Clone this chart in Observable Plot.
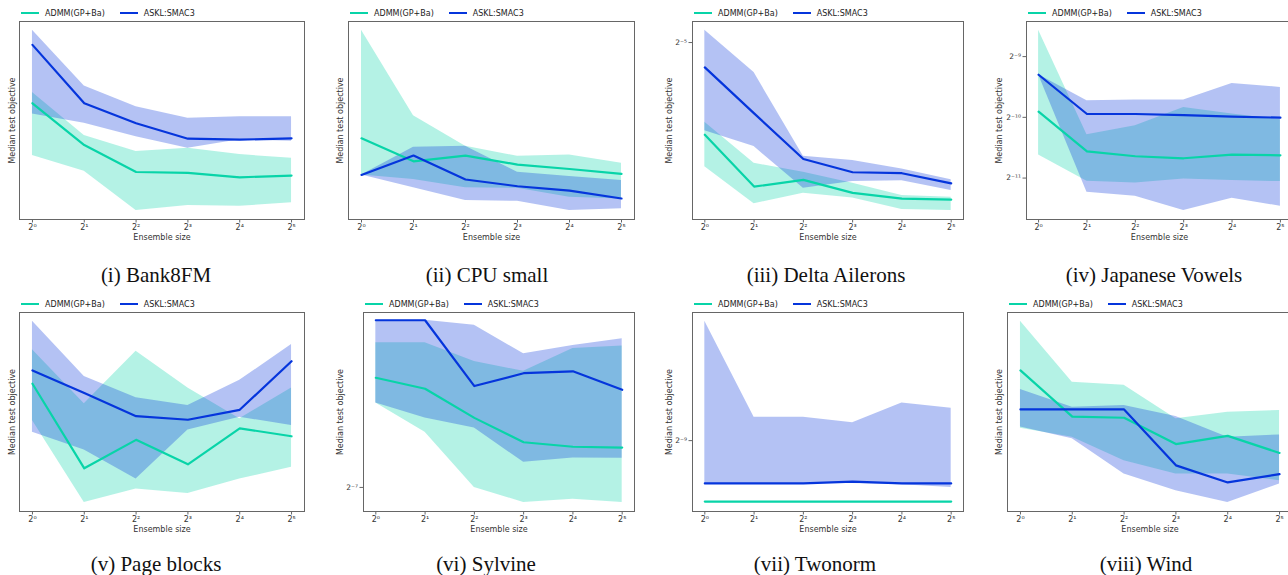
<!DOCTYPE html>
<html><head><meta charset="utf-8">
<script src="https://cdn.jsdelivr.net/npm/d3@7"></script>
<script src="https://cdn.jsdelivr.net/npm/@observablehq/plot@0.6"></script>
<style>
html,body{margin:0;padding:0;background:#fff}
body{width:1288px;height:575px;overflow:hidden;position:relative;font-family:"DejaVu Sans",sans-serif}
.plotbox{position:absolute}
.plotbox svg{overflow:visible;max-width:none !important}
.legend{position:absolute;height:12px;display:flex;align-items:center;font-size:8px;color:#222;white-space:nowrap;background:rgba(255,255,255,0.85)}
.legend .sw{display:inline-block;width:18px;height:2.6px;margin-right:6px}
.legend .lab{margin-right:15px}
.caption{position:absolute;font-family:"Liberation Serif","Times New Roman",serif;font-size:21px;line-height:21px;color:#111;white-space:nowrap;transform:translateX(-50%)}
</style>
</head><body>
<script>
// ---------- data ----------
const ensembleSizes = [1, 2, 4, 8, 16, 32];
const xTickLabels = ["2⁰", "2¹", "2²", "2³", "2⁴", "2⁵"];
const seriesNames = ["ADMM(GP+Ba)", "ASKL:SMAC3"];
const captions = ["(i) Bank8FM", "(ii) CPU small", "(iii) Delta Ailerons", "(iv) Japanese Vowels",
                  "(v) Page blocks", "(vi) Sylvine", "(vii) Twonorm", "(viii) Wind"];

// (i) Bank8FM — relative units (no y tick labels in source)
const bankAdmmMed = [58.7, 37.6, 24.0, 23.5, 21.3, 22.2];
const bankAdmmLo  = [32.3, 24.4, 4.5, 7.1, 6.7, 8.4];
const bankAdmmHi  = [64.2, 42.4, 34.3, 36.0, 32.8, 30.9];
const bankAsklMed = [88.2, 58.7, 48.6, 40.8, 40.3, 41.0];
const bankAsklLo  = [53.3, 48.6, 41.8, 36.0, 40.3, 39.5];
const bankAsklHi  = [95.6, 67.4, 57.0, 51.1, 51.9, 51.9];

// (ii) CPU small — relative units
const cpuAdmmMed = [41.0, 29.4, 32.3, 27.7, 25.5, 23.0];
const cpuAdmmLo  = [22.5, 20.2, 16.0, 15.8, 11.3, 10.4];
const cpuAdmmHi  = [95.6, 52.4, 37.0, 31.9, 32.6, 28.4];
const cpuAsklMed = [22.5, 32.3, 20.2, 16.8, 14.6, 10.6];
const cpuAsklLo  = [22.5, 16.0, 9.6, 9.2, 4.5, 5.4];
const cpuAsklHi  = [22.5, 36.5, 37.0, 23.9, 21.7, 19.7];

// (iii) Delta Ailerons — log2 of objective
const deltaAdmmMed = [-5.482, -5.753, -5.718, -5.786, -5.816, -5.821];
const deltaAdmmLo  = [-5.649, -5.843, -5.788, -5.812, -5.873, -5.878];
const deltaAdmmHi  = [-5.417, -5.631, -5.678, -5.736, -5.800, -5.809];
const deltaAsklMed = [-5.130, -5.370, -5.609, -5.678, -5.683, -5.736];
const deltaAsklLo  = [-5.461, -5.544, -5.762, -5.727, -5.722, -5.774];
const deltaAsklHi  = [-4.936, -5.157, -5.595, -5.617, -5.661, -5.717];
const deltaYTicks = [-5];

// (iv) Japanese Vowels — log2 of objective
const jvAdmmMed = [-9.907, -10.559, -10.641, -10.674, -10.614, -10.625];
const jvAdmmLo  = [-10.619, -11.052, -11.079, -11.014, -11.041, -11.058];
const jvAdmmHi  = [-8.564, -10.285, -10.137, -9.836, -9.945, -10.038];
const jvAsklMed = [-9.299, -9.945, -9.945, -9.962, -9.989, -10.005];
const jvAsklLo  = [-9.299, -11.233, -11.299, -11.534, -11.332, -11.463];
const jvAsklHi  = [-9.299, -9.726, -9.715, -9.715, -9.441, -9.507];
const jvYTicks = [-9, -10, -11];

// (v) Page blocks — relative units
const pageAdmmMed = [64.2, 21.7, 36.0, 23.7, 41.8, 37.8];
const pageAdmmLo  = [45.7, 4.5, 11.3, 9.1, 16.3, 22.2];
const pageAdmmHi  = [81.3, 54.1, 80.5, 62.0, 46.6, 62.0];
const pageAsklMed = [70.9, 59.5, 47.9, 46.1, 51.1, 75.5];
const pageAsklLo  = [39.8, 30.9, 16.3, 41.0, 47.4, 43.2];
const pageAsklHi  = [95.6, 67.9, 57.1, 53.3, 65.9, 83.9];

// (vi) Sylvine — log2 of objective
const sylAdmmMed = [-6.590, -6.631, -6.740, -6.831, -6.848, -6.851];
const sylAdmmLo  = [-6.684, -6.794, -7.000, -7.056, -7.044, -7.056];
const sylAdmmHi  = [-6.459, -6.459, -6.529, -6.566, -6.481, -6.471];
const sylAsklMed = [-6.375, -6.375, -6.621, -6.573, -6.566, -6.635];
const sylAsklLo  = [-6.684, -6.740, -6.778, -6.906, -6.890, -6.891];
const sylAsklHi  = [-6.375, -6.375, -6.394, -6.500, -6.469, -6.444];
const sylYTicks = [-7];

// (vii) Twonorm — log2 of objective
const twoAdmmMed = [-9.228, -9.228, -9.228, -9.228, -9.228, -9.228];
const twoAdmmLo  = [-9.228, -9.228, -9.228, -9.228, -9.228, -9.228];
const twoAdmmHi  = [-9.228, -9.228, -9.228, -9.228, -9.228, -9.228];
const twoAsklMed = [-9.160, -9.160, -9.160, -9.153, -9.160, -9.160];
const twoAsklLo  = [-9.160, -9.160, -9.160, -9.160, -9.165, -9.175];
const twoAsklHi  = [-8.554, -8.913, -8.913, -8.933, -8.859, -8.879];
const twoYTicks = [-9];

// (viii) Wind — relative units
const windAdmmMed = [70.9, 47.7, 47.1, 33.9, 38.0, 29.4];
const windAdmmLo  = [41.8, 37.3, 25.5, 18.8, 18.8, 15.5];
const windAdmmHi  = [95.6, 65.0, 63.4, 46.6, 49.9, 50.8];
const windAsklMed = [51.3, 51.3, 51.3, 23.2, 14.6, 18.8];
const windAsklLo  = [42.4, 36.5, 18.8, 10.4, 4.5, 13.8];
const windAsklHi  = [61.3, 52.4, 53.3, 47.7, 37.3, 38.5];

// ---------- styling / layout ----------
const TEAL = "#08d4a8";
const BLUE = "#0535dc";
const sup = {"-": "⁻", "0": "⁰", "1": "¹", "2": "²", "3": "³", "4": "⁴", "5": "⁵", "6": "⁶", "7": "⁷", "8": "⁸", "9": "⁹"};
const pow2 = k => "2" + String(k).split("").map(c => sup[c]).join("");

const panels = [
  {cap: 0, frame: [19, 304, 21, 219], d: [bankAdmmMed, bankAdmmLo, bankAdmmHi, bankAsklMed, bankAsklLo, bankAsklHi], yDomain: [0, 100], yTicks: [], yLab: 7.5, capX: 156, capY: 265},
  {cap: 1, frame: [348, 634, 21, 219], d: [cpuAdmmMed, cpuAdmmLo, cpuAdmmHi, cpuAsklMed, cpuAsklLo, cpuAsklHi], yDomain: [0, 100], yTicks: [], yLab: 8, capX: 487, capY: 265},
  {cap: 2, frame: [692, 963, 21, 219], d: [deltaAdmmMed, deltaAdmmLo, deltaAdmmHi, deltaAsklMed, deltaAsklLo, deltaAsklHi], yDomain: [-5.925, -4.890], yTicks: deltaYTicks, yLab: 23, capX: 826, capY: 265},
  {cap: 3, frame: [1026, 1292, 21, 219], d: [jvAdmmMed, jvAdmmLo, jvAdmmHi, jvAsklMed, jvAsklLo, jvAsklHi], yDomain: [-11.682, -8.422], yTicks: jvYTicks, yLab: 27, capX: 1154, capY: 265},
  {cap: 4, frame: [19, 304, 312, 511], d: [pageAdmmMed, pageAdmmLo, pageAdmmHi, pageAsklMed, pageAsklLo, pageAsklHi], yDomain: [0, 100], yTicks: [], yLab: 7.5, capX: 156, capY: 554},
  {cap: 5, frame: [363, 634, 312, 511], d: [sylAdmmMed, sylAdmmLo, sylAdmmHi, sylAsklMed, sylAsklLo, sylAsklHi], yDomain: [-7.090, -6.346], yTicks: sylYTicks, yLab: 23, capX: 486, capY: 554},
  {cap: 6, frame: [692, 963, 312, 511], d: [twoAdmmMed, twoAdmmLo, twoAdmmHi, twoAsklMed, twoAsklLo, twoAsklHi], yDomain: [-9.265, -8.521], yTicks: twoYTicks, yLab: 23, capX: 815, capY: 554},
  {cap: 7, frame: [1007, 1292, 312, 511], d: [windAdmmMed, windAdmmLo, windAdmmHi, windAsklMed, windAsklLo, windAsklHi], yDomain: [0, 100], yTicks: [], yLab: 8, capX: 1146, capY: 554}
];

const ML = 40, MR = 10, MT = 10, MB = 30;

for (const p of panels) {
  const [L, R, T, B] = p.frame;
  const rows = ensembleSizes.map((s, i) => ({
    x: Math.log2(s),
    am: p.d[0][i], alo: p.d[1][i], ahi: p.d[2][i],
    sm: p.d[3][i], slo: p.d[4][i], shi: p.d[5][i]
  }));
  const hasY = p.yTicks.length > 0;
  const W = (R - L) + ML + MR, H = (B - T) + MT + MB;
  const chart = Plot.plot({
    width: W,
    height: H,
    marginLeft: ML, marginRight: MR, marginTop: MT, marginBottom: MB,
    style: {fontFamily: "DejaVu Sans, sans-serif", fontSize: "8px", color: "#333", background: "transparent", overflow: "visible"},
    x: {domain: [-0.25, 5.25], axis: null},
    y: {domain: p.yDomain, axis: null},
    marks: [
      Plot.areaY(rows, {x: "x", y1: "alo", y2: "ahi", fill: TEAL, fillOpacity: 0.3}),
      Plot.areaY(rows, {x: "x", y1: "slo", y2: "shi", fill: BLUE, fillOpacity: 0.3}),
      Plot.lineY(rows, {x: "x", y: "am", stroke: TEAL, strokeWidth: 2.2}),
      Plot.lineY(rows, {x: "x", y: "sm", stroke: BLUE, strokeWidth: 2.2}),
      Plot.frame({stroke: "#666", strokeWidth: 1}),
      Plot.axisX([0, 1, 2, 3, 4, 5], {tickFormat: i => xTickLabels[i], tickSize: 3.5, tickPadding: 1.5, stroke: "#666", fill: "#333", fontSize: 8, label: null}),
      hasY ? Plot.axisY(p.yTicks, {tickFormat: pow2, tickSize: 3.5, tickPadding: 2, stroke: "#666", fill: "#333", fontSize: 7.5, label: null}) : null,
      Plot.text(["Ensemble size"], {frameAnchor: "bottom", textAnchor: "middle", lineAnchor: "middle", dy: 18, text: d => d, fontSize: 8, fill: "#333"}),
      Plot.text(["Median test objective"], {frameAnchor: "left", textAnchor: "middle", lineAnchor: "middle", dx: -p.yLab, rotate: -90, text: d => d, fontSize: 8, fill: "#333"})
    ]
  });
  const box = document.createElement("div");
  box.className = "plotbox";
  box.style.left = (L - ML) + "px";
  box.style.top = (T - MT) + "px";
  box.style.width = W + "px";
  box.style.height = H + "px";
  box.appendChild(chart);
  document.body.appendChild(box);

  // legend
  const lg = document.createElement("div");
  lg.className = "legend";
  lg.style.left = (L + 2) + "px";
  lg.style.top = (T - 14) + "px";
  [TEAL, BLUE].forEach((c, k) => {
    const sw = document.createElement("span");
    sw.className = "sw"; sw.style.background = c;
    const lab = document.createElement("span");
    lab.className = "lab"; lab.textContent = seriesNames[k];
    lg.appendChild(sw); lg.appendChild(lab);
  });
  document.body.appendChild(lg);

  // caption
  const cp = document.createElement("div");
  cp.className = "caption";
  cp.textContent = captions[p.cap];
  cp.style.left = p.capX + "px";
  cp.style.top = p.capY + "px";
  document.body.appendChild(cp);
}
</script>
</body></html>
